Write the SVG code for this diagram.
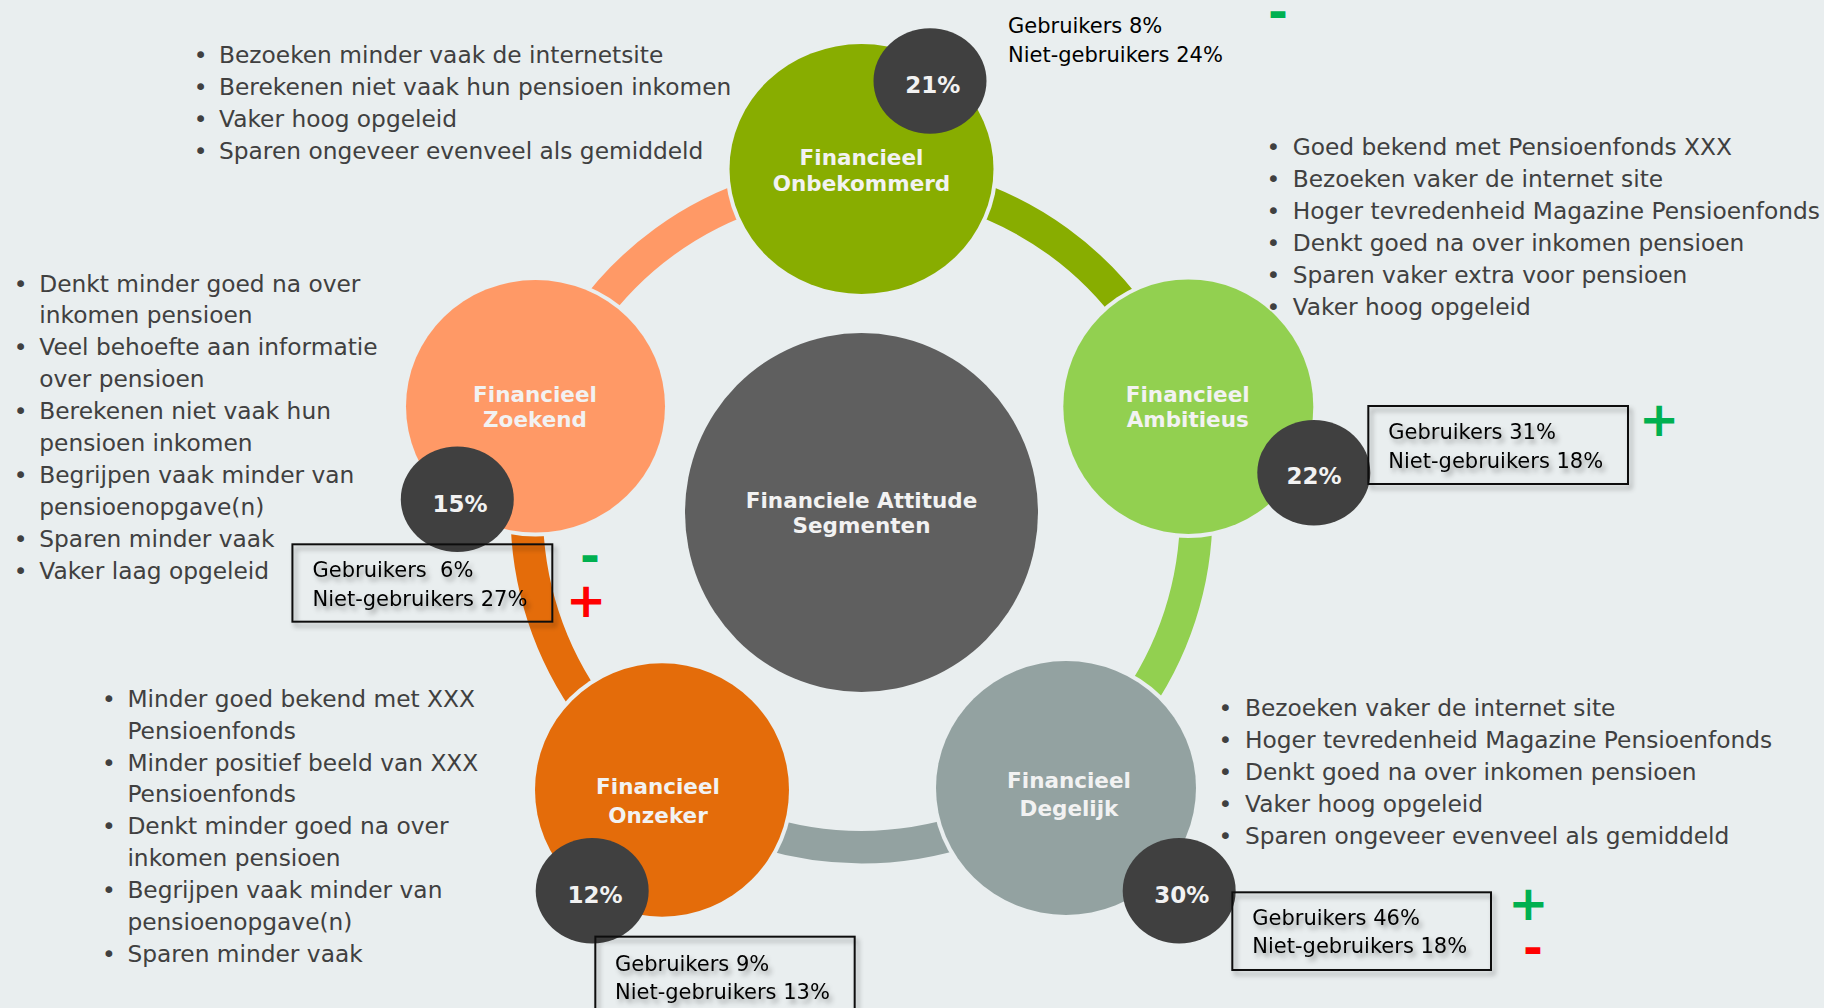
<svg xmlns="http://www.w3.org/2000/svg" width="1824" height="1008" viewBox="0 0 1824 1008">
<defs>
<style>
.bg{fill:#e9eeef}
.arc{fill:none;stroke-width:32.5}
.gap{fill:#e9eeef}
.badge{fill:#404040}
.lbl{font-family:"DejaVu Sans",Verdana,sans-serif;font-weight:bold;font-size:21.5px;fill:#f2f2f2;text-anchor:middle}
.pct{font-family:"DejaVu Sans",Verdana,sans-serif;font-weight:bold;font-size:23px;fill:#f2f2f2;text-anchor:middle}
.bul{font-family:"DejaVu Sans",Verdana,sans-serif;font-size:23.3px;fill:#404040}
.dot{text-anchor:middle}
.bt{font-family:"DejaVu Sans",Verdana,sans-serif;font-size:21px;fill:#000}
.box{fill:none;stroke:#111;stroke-width:2}
.sign{font-family:"DejaVu Sans",Verdana,sans-serif;font-weight:bold;font-size:48px;text-anchor:middle}
.g{fill:#00b050}
.r{fill:#ff0000}
</style>
<filter id="sh" x="-10%" y="-20%" width="130%" height="160%">
<feDropShadow dx="3" dy="4" stdDeviation="2.5" flood-color="#000" flood-opacity="0.35"/>
</filter>
</defs>
<rect class="bg" x="0" y="0" width="1824" height="1008"/>

<g id="connectors">
<path class="arc" stroke="#88ad00" d="M 861.5 177.75 A 334.75 334.75 0 0 1 1179.87 409.05"/>
<path class="arc" stroke="#92d050" d="M 1179.87 409.05 A 334.75 334.75 0 0 1 1058.26 783.32"/>
<path class="arc" stroke="#93a2a1" d="M 1058.26 783.32 A 334.75 334.75 0 0 1 664.74 783.32"/>
<path class="arc" stroke="#e46c0a" d="M 664.74 783.32 A 334.75 334.75 0 0 1 543.13 409.05"/>
<path class="arc" stroke="#ff9966" d="M 543.13 409.05 A 334.75 334.75 0 0 1 861.5 177.75"/>
</g>

<g id="center">
<ellipse cx="861.5" cy="512.5" rx="176.5" ry="179.5" fill="#5f5f5f"/>
<text class="lbl" x="861.5" y="508.3">Financiele Attitude</text>
<text class="lbl" x="861.5" y="533.3">Segmenten</text>
</g>

<g id="node-onbekommerd">
<ellipse class="gap" cx="861.5" cy="169" rx="136" ry="129"/>
<ellipse cx="861.5" cy="169" rx="132" ry="125" fill="#88ad00"/>
<text class="lbl" x="861.5" y="165">Financieel</text>
<text class="lbl" x="861.5" y="190.7">Onbekommerd</text>
<ellipse class="badge" cx="930" cy="81" rx="56.5" ry="52.7"/>
<text class="pct" x="932.7" y="92.7">21%</text>
<text class="bt" x="1008" y="33.3">Gebruikers 8%</text>
<text class="bt" x="1008" y="61.7">Niet-gebruikers 24%</text>
<text class="sign g" x="1278" y="28">-</text>
<text class="bul"><tspan class="dot" x="200.5" y="63">•</tspan><tspan x="219" y="63">Bezoeken minder vaak de internetsite</tspan><tspan class="dot" x="200.5" y="95">•</tspan><tspan x="219" y="95">Berekenen niet vaak hun pensioen inkomen</tspan><tspan class="dot" x="200.5" y="127">•</tspan><tspan x="219" y="127">Vaker hoog opgeleid</tspan><tspan class="dot" x="200.5" y="159">•</tspan><tspan x="219" y="159">Sparen ongeveer evenveel als gemiddeld</tspan></text>
</g>

<g id="node-ambitieus">
<ellipse class="gap" cx="1188.3" cy="406.7" rx="129" ry="131.3"/>
<ellipse cx="1188.3" cy="406.7" rx="125" ry="127.3" fill="#92d050"/>
<text class="lbl" x="1187.7" y="401.7">Financieel</text>
<text class="lbl" x="1187.7" y="427.3">Ambitieus</text>
<ellipse class="badge" cx="1313.8" cy="472.7" rx="56.5" ry="52.7"/>
<text class="pct" x="1314" y="484.3">22%</text>
<g filter="url(#sh)">
<rect class="box" x="1368.3" y="406" width="259.7" height="78"/>
<text class="bt" x="1388.3" y="439.3">Gebruikers 31%</text>
<text class="bt" x="1388.3" y="468.3">Niet-gebruikers 18%</text>
</g>
<text class="sign g" x="1659" y="436">+</text>
<text class="bul"><tspan class="dot" x="1273.3" y="155">•</tspan><tspan x="1292.7" y="155">Goed bekend met Pensioenfonds XXX</tspan><tspan class="dot" x="1273.3" y="187">•</tspan><tspan x="1292.7" y="187">Bezoeken vaker de internet site</tspan><tspan class="dot" x="1273.3" y="219">•</tspan><tspan x="1292.7" y="219">Hoger tevredenheid Magazine Pensioenfonds</tspan><tspan class="dot" x="1273.3" y="251">•</tspan><tspan x="1292.7" y="251">Denkt goed na over inkomen pensioen</tspan><tspan class="dot" x="1273.3" y="283">•</tspan><tspan x="1292.7" y="283">Sparen vaker extra voor pensioen</tspan><tspan class="dot" x="1273.3" y="315">•</tspan><tspan x="1292.7" y="315">Vaker hoog opgeleid</tspan></text>
</g>

<g id="node-degelijk">
<ellipse class="gap" cx="1066" cy="788" rx="134" ry="131"/>
<ellipse cx="1066" cy="788" rx="130" ry="127" fill="#93a2a1"/>
<text class="lbl" x="1069" y="788.3">Financieel</text>
<text class="lbl" x="1069" y="816">Degelijk</text>
<ellipse class="badge" cx="1179.2" cy="890.7" rx="56.5" ry="52.7"/>
<text class="pct" x="1181.7" y="902.7">30%</text>
<g filter="url(#sh)">
<rect class="box" x="1232.3" y="892.3" width="258.7" height="77.7"/>
<text class="bt" x="1252.3" y="925">Gebruikers 46%</text>
<text class="bt" x="1252.3" y="953.3">Niet-gebruikers 18%</text>
</g>
<text class="sign"><tspan class="g" x="1528.4" y="920">+</tspan><tspan class="r" x="1533" y="964">-</tspan></text>
<text class="bul"><tspan class="dot" x="1225.3" y="716">•</tspan><tspan x="1245" y="716">Bezoeken vaker de internet site</tspan><tspan class="dot" x="1225.3" y="748">•</tspan><tspan x="1245" y="748">Hoger tevredenheid Magazine Pensioenfonds</tspan><tspan class="dot" x="1225.3" y="780">•</tspan><tspan x="1245" y="780">Denkt goed na over inkomen pensioen</tspan><tspan class="dot" x="1225.3" y="812">•</tspan><tspan x="1245" y="812">Vaker hoog opgeleid</tspan><tspan class="dot" x="1225.3" y="844">•</tspan><tspan x="1245" y="844">Sparen ongeveer evenveel als gemiddeld</tspan></text>
</g>

<g id="node-onzeker">
<ellipse class="gap" cx="662" cy="790" rx="131" ry="130.7"/>
<ellipse cx="662" cy="790" rx="127" ry="126.7" fill="#e46c0a"/>
<text class="lbl" x="658" y="794">Financieel</text>
<text class="lbl" x="658" y="822.7">Onzeker</text>
<ellipse class="badge" cx="592.2" cy="890.7" rx="56.5" ry="52.7"/>
<text class="pct" x="595" y="902.7">12%</text>
<g filter="url(#sh)">
<rect class="box" x="595.3" y="936.7" width="259.4" height="90"/>
<text class="bt" x="615" y="971">Gebruikers 9%</text>
<text class="bt" x="615" y="999">Niet-gebruikers 13%</text>
</g>
<text class="bul"><tspan class="dot" x="108.8" y="707">•</tspan><tspan x="127.4" y="707">Minder goed bekend met XXX</tspan><tspan x="127.4" y="739">Pensioenfonds</tspan><tspan class="dot" x="108.8" y="771">•</tspan><tspan x="127.4" y="771">Minder positief beeld van XXX</tspan><tspan x="127.4" y="802">Pensioenfonds</tspan><tspan class="dot" x="108.8" y="834">•</tspan><tspan x="127.4" y="834">Denkt minder goed na over</tspan><tspan x="127.4" y="866">inkomen pensioen</tspan><tspan class="dot" x="108.8" y="898">•</tspan><tspan x="127.4" y="898">Begrijpen vaak minder van</tspan><tspan x="127.4" y="930">pensioenopgave(n)</tspan><tspan class="dot" x="108.8" y="962">•</tspan><tspan x="127.4" y="962">Sparen minder vaak</tspan></text>
</g>

<g id="node-zoekend">
<ellipse class="gap" cx="535.5" cy="406.3" rx="133.5" ry="130.3"/>
<ellipse cx="535.5" cy="406.3" rx="129.5" ry="126.3" fill="#ff9966"/>
<text class="lbl" x="535" y="401.7">Financieel</text>
<text class="lbl" x="535" y="427.3">Zoekend</text>
<ellipse class="badge" cx="457.3" cy="499.2" rx="56.5" ry="52.7"/>
<text class="pct" x="460" y="511.7">15%</text>
<g filter="url(#sh)">
<rect class="box" x="292.4" y="544.3" width="259.9" height="77.4"/>
<text class="bt" x="312.5" y="576.7" xml:space="preserve">Gebruikers  6%</text>
<text class="bt" x="312.5" y="606">Niet-gebruikers 27%</text>
</g>
<text class="sign"><tspan class="g" x="590" y="572">-</tspan><tspan class="r" x="586" y="617">+</tspan></text>
<text class="bul"><tspan class="dot" x="20.5" y="291.5">•</tspan><tspan x="39.3" y="291.5">Denkt minder goed na over</tspan><tspan x="39.3" y="323.4">inkomen pensioen</tspan><tspan class="dot" x="20.5" y="355.3">•</tspan><tspan x="39.3" y="355.3">Veel behoefte aan informatie</tspan><tspan x="39.3" y="387.2">over pensioen</tspan><tspan class="dot" x="20.5" y="419.1">•</tspan><tspan x="39.3" y="419.1">Berekenen niet vaak hun</tspan><tspan x="39.3" y="451">pensioen inkomen</tspan><tspan class="dot" x="20.5" y="482.9">•</tspan><tspan x="39.3" y="482.9">Begrijpen vaak minder van</tspan><tspan x="39.3" y="514.8">pensioenopgave(n)</tspan><tspan class="dot" x="20.5" y="546.7">•</tspan><tspan x="39.3" y="546.7">Sparen minder vaak</tspan><tspan class="dot" x="20.5" y="578.6">•</tspan><tspan x="39.3" y="578.6">Vaker laag opgeleid</tspan></text>
</g>
</svg>
